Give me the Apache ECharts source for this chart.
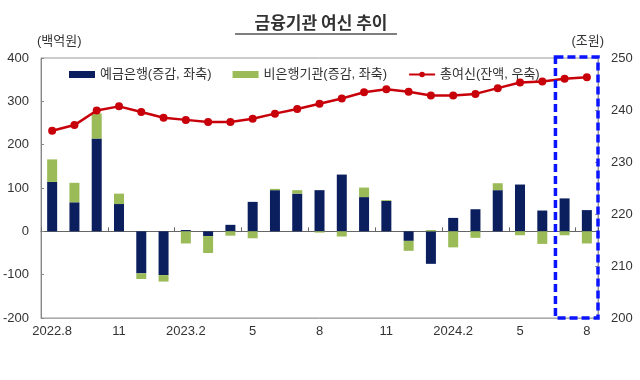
<!DOCTYPE html>
<html><head><meta charset="utf-8">
<script src="https://cdn.jsdelivr.net/npm/echarts@6.0.0/dist/echarts.min.js"></script>
<style>html,body{margin:0;padding:0;background:#fff}</style>
</head><body>
<div id="c" style="width:640px;height:380px"></div>
<script>
const months = ['2022.8','9','10','11','12','1','2023.2','3','4','5','6','7','8','9','10','11','12','1','2024.2','3','4','5','6','7','8'];
const depositBanks = [114,67,214,63,-97,-101,3,-11,15,68,95,87,95,131,79,70,-22,-75,31,51,95,108,48,76,49];
const nonBanks = [52,45,58,24,-13,-15,-28,-39,-10,-16,3,8,-3,-12,22,2,-23,3,-37,-15,16,-9,-29,-9,-28];
const totalCredit = [236.0,237.1,239.9,240.7,239.6,238.5,238.1,237.7,237.7,238.3,239.3,240.2,241.2,242.2,243.4,244.0,243.5,242.8,242.8,243.1,244.2,245.3,245.5,246.0,246.3];
const seriesNames = ['예금은행(증감, 좌축)','비은행기관(증감, 좌축)','총여신(잔액, 우축)'];
const leftAxis = {min:-200, max:400, interval:100};
const rightAxis = {min:200, max:250, interval:10};
const highlightMonths = ['7','8'];

const FONT = "'Liberation Sans', 'Noto Sans CJK KR', sans-serif";
const chart = echarts.init(document.getElementById('c'));
const option = {
  animation:false,
  textStyle:{fontFamily:FONT},
  title:{text:'금융기관 여신 추이', left:316, top:9, textAlign:'center',
    textStyle:{fontFamily:"'Noto Sans CJK KR', sans-serif", fontSize:17, fontWeight:'bold', color:'#333'}},
  legend:{left:64, top:63, itemGap:21, itemWidth:26, itemHeight:7,
    textStyle:{fontFamily:FONT, fontSize:13, color:'#333'},
    data:[{name:seriesNames[0], icon:'rect'},{name:seriesNames[1], icon:'rect'},{name:seriesNames[2]}]},
  grid:{left:41, right:42, top:58, bottom:62, show:true, borderColor:'#999', borderWidth:1},
  xAxis:[
    {type:'category', data:months, position:'bottom',
     axisLine:{onZero:false, lineStyle:{color:'#aaa'}},
     axisTick:{show:false},
     axisLabel:{interval:2, color:'#333', fontSize:13, margin:7, fontFamily:FONT}},
    {type:'category', data:months, position:'bottom',
     axisLine:{onZero:true, lineStyle:{color:'#666', width:1.2}},
     axisTick:{show:true, inside:true, interval:2, length:4, lineStyle:{color:'#666'}},
     axisLabel:{show:false}}
  ],
  yAxis:[
    {type:'value', min:leftAxis.min, max:leftAxis.max, interval:leftAxis.interval,
     name:'(백억원)', nameLocation:'end', nameGap:10,
     nameTextStyle:{align:'left', color:'#333', fontSize:13, padding:[0,0,0,-4], fontFamily:FONT},
     axisLine:{show:true, lineStyle:{color:'#888'}},
     axisTick:{show:true, inside:true, length:3, lineStyle:{color:'#888'}},
     splitLine:{show:false},
     axisLabel:{color:'#333', fontSize:13, margin:12, fontFamily:FONT}},
    {type:'value', min:rightAxis.min, max:rightAxis.max, interval:rightAxis.interval,
     name:'(조원)', nameLocation:'end', nameGap:10,
     nameTextStyle:{align:'right', color:'#333', fontSize:13, padding:[0,-6,0,0], fontFamily:FONT},
     axisLine:{show:true, lineStyle:{color:'#999'}},
     axisTick:{show:true, inside:true, length:3, lineStyle:{color:'#999'}},
     splitLine:{show:false},
     axisLabel:{color:'#333', fontSize:13, margin:13, fontFamily:FONT}}
  ],
  series:[
    {name:seriesNames[0], type:'bar', stack:'s', data:depositBanks, barWidth:10,
     itemStyle:{color:'#0b1f5e'}},
    {name:seriesNames[1], type:'bar', stack:'s', data:nonBanks, barWidth:10,
     itemStyle:{color:'#9bbb59'}},
    {name:seriesNames[2], type:'line', yAxisIndex:1, data:totalCredit, symbol:'circle', symbolSize:8,
     lineStyle:{color:'#c8000a', width:2.5}, itemStyle:{color:'#c8000a'}, z:5}
  ]
};
chart.setOption(option);

// annotation: title underline and dashed highlight box
const band = chart.convertToPixel({xAxisIndex:0}, 1) - chart.convertToPixel({xAxisIndex:0}, 0);
const i0 = months.length - highlightMonths.length;
const bx0 = chart.convertToPixel({xAxisIndex:0}, i0) - band/2 + 2;
const bx1 = chart.convertToPixel({xAxisIndex:0}, months.length-1) + band/2;
const by0 = chart.convertToPixel({yAxisIndex:0}, leftAxis.max) - 1;
const by1 = chart.convertToPixel({yAxisIndex:0}, leftAxis.min);
chart.setOption({graphic:[
  {type:'line', shape:{x1:235, y1:34, x2:397, y2:34}, style:{stroke:'#555', lineWidth:1.5}},
  {type:'rect', z:100, shape:{x:bx0, y:by0, width:bx1-bx0, height:by1-by0},
   style:{fill:'none', stroke:'#0a14ff', lineWidth:3.5, lineDash:[8,4]}}
]});
</script>
</body></html>
